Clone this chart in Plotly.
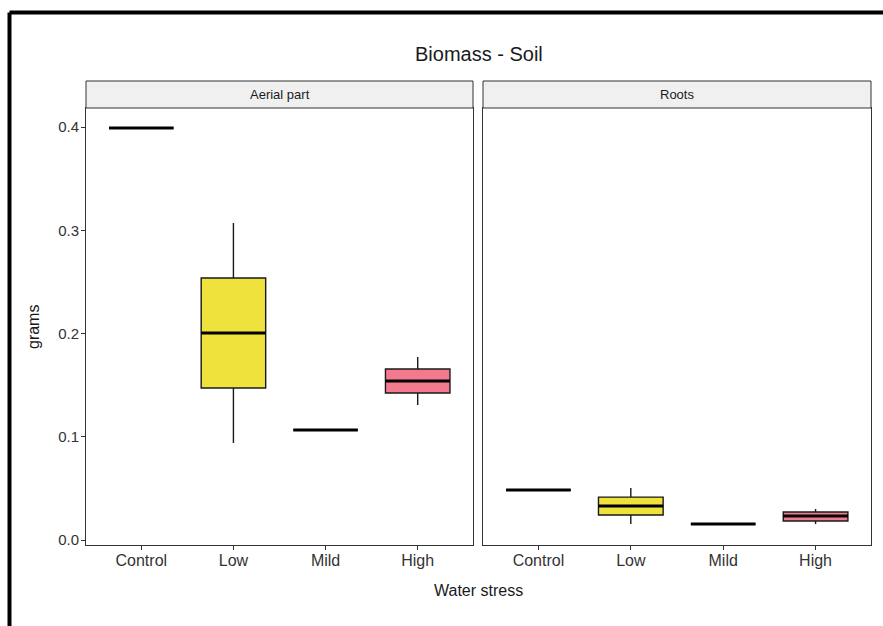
import plotly.graph_objects as go

categories = ["Control", "Low", "Mild", "High"]
facets = ["Aerial part", "Roots"]

# box statistics per facet: lowerfence, q1, median, q3, upperfence
aerial_low = [0.399, 0.094, 0.1065, 0.1307]
aerial_q1 = [0.399, 0.1472, 0.1065, 0.1424]
aerial_med = [0.399, 0.2005, 0.1065, 0.1540]
aerial_q3 = [0.399, 0.2538, 0.1065, 0.1656]
aerial_high = [0.399, 0.307, 0.1065, 0.1772]

roots_low = [0.0484, 0.0155, 0.0155, 0.0155]
roots_q1 = [0.0484, 0.0242, 0.0155, 0.0184]
roots_med = [0.0484, 0.0330, 0.0155, 0.0232]
roots_q3 = [0.0484, 0.0416, 0.0155, 0.0271]
roots_high = [0.0484, 0.0504, 0.0155, 0.0300]

fill_colors = ["#8FA9C9", "#EFE23C", "#7FC7A6", "#F37A8E"]

y_ticks = [0.0, 0.1, 0.2, 0.3, 0.4]
y_ticktext = ["0.0", "0.1", "0.2", "0.3", "0.4"]

BOXW = 0.7
FONT = "Liberation Sans, Arial, sans-serif"

fig = go.Figure()

data = [
    (aerial_low, aerial_q1, aerial_med, aerial_q3, aerial_high, "x", "y"),
    (roots_low, roots_q1, roots_med, roots_q3, roots_high, "x2", "y2"),
]

for lo, q1, med, q3, hi, xa, ya in data:
    for i, cat in enumerate(categories):
        fig.add_trace(go.Box(
            x=[i], lowerfence=[lo[i]], q1=[q1[i]], median=[med[i]],
            q3=[q3[i]], upperfence=[hi[i]],
            width=BOXW, whiskerwidth=0, boxpoints=False,
            fillcolor=fill_colors[i],
            line=dict(color="#1a1a1a", width=1.4),
            xaxis=xa, yaxis=ya, showlegend=False, hoverinfo="skip",
        ))
        fig.add_trace(go.Scatter(
            x=[i - BOXW / 2, i + BOXW / 2], y=[med[i], med[i]],
            mode="lines", line=dict(color="#000000", width=3),
            xaxis=xa, yaxis=ya, showlegend=False, hoverinfo="skip",
        ))

W, H = 883, 626
ml, mr, mt, mb = 86, 12, 81, 81
plot_w = W - ml - mr
plot_h = H - mt - mb
strip_h = 27
ytop = 1 - strip_h / plot_h
d1 = [0, (473 - ml) / plot_w]
d2 = [(483 - ml) / plot_w, 1]

axis_common = dict(
    showline=True, linecolor="#333333", linewidth=1, mirror=True,
    showgrid=False, zeroline=False,
)
xcommon = dict(
    axis_common, range=[-0.6, 3.6], tickvals=list(range(len(categories))),
    ticktext=categories, ticks="outside", ticklen=4, tickcolor="#333333",
    ticklabelstandoff=-3,
    tickfont=dict(family=FONT, size=16, color="#333333"),
)
ycommon = dict(axis_common, range=[-0.0048, 0.4184], domain=[0, ytop])

fig.update_layout(
    width=W, height=H,
    margin=dict(l=ml, r=mr, t=mt, b=mb),
    paper_bgcolor="white", plot_bgcolor="white",
    boxmode="overlay",
    xaxis=dict(xcommon, domain=d1, anchor="y"),
    xaxis2=dict(xcommon, domain=d2, anchor="y2"),
    yaxis=dict(ycommon, anchor="x", tickvals=y_ticks, ticktext=y_ticktext,
               ticks="outside", ticklen=4, tickcolor="#333333",
               ticklabelstandoff=-1,
               tickfont=dict(family=FONT, size=15, color="#333333")),
    yaxis2=dict(ycommon, anchor="x2", showticklabels=False, ticks=""),
    font=dict(family=FONT),
)

shapes = []
annotations = []
for dom, name in zip([d1, d2], facets):
    shapes.append(dict(type="rect", xref="paper", yref="paper",
                       x0=dom[0], x1=dom[1], y0=ytop, y1=1,
                       fillcolor="#F0F0F0", line=dict(color="#333333", width=1)))
    annotations.append(dict(text=name, xref="paper", yref="paper",
                            x=(dom[0] + dom[1]) / 2, y=(1 + ytop) / 2,
                            showarrow=False, xanchor="center", yanchor="middle",
                            font=dict(family=FONT, size=13, color="#1a1a1a")))

# title
annotations.append(dict(text="Biomass - Soil", xref="paper", yref="paper",
                        x=0.5, y=1 + (mt - 54) / plot_h, showarrow=False,
                        xanchor="center", yanchor="middle",
                        font=dict(family=FONT, size=20, color="#1a1a1a")))
# axis titles
annotations.append(dict(text="Water stress", xref="paper", yref="paper",
                        x=0.5, y=-(590 - (H - mb)) / plot_h, showarrow=False,
                        xanchor="center", yanchor="middle",
                        font=dict(family=FONT, size=16, color="#1a1a1a")))
annotations.append(dict(text="grams", xref="paper", yref="paper",
                        x=-(ml - 33) / plot_w, y=1 - (327 - mt) / plot_h,
                        showarrow=False, textangle=-90,
                        xanchor="center", yanchor="middle",
                        font=dict(family=FONT, size=16, color="#1a1a1a")))

# outer frame (left and top black border of the image)
fx = (9.5 - ml) / plot_w
fy = 1 + (mt - 12.5) / plot_h
shapes.append(dict(type="line", xref="paper", yref="paper",
                   x0=fx, x1=fx, y0=fy, y1=-(H - mt - plot_h + 5) / plot_h - 0.01,
                   line=dict(color="#000000", width=4)))
shapes.append(dict(type="line", xref="paper", yref="paper",
                   x0=fx, x1=1 + (mr + 5) / plot_w, y0=fy, y1=fy,
                   line=dict(color="#000000", width=4)))

fig.update_layout(shapes=shapes, annotations=annotations)

fig.write_html("out.html")
